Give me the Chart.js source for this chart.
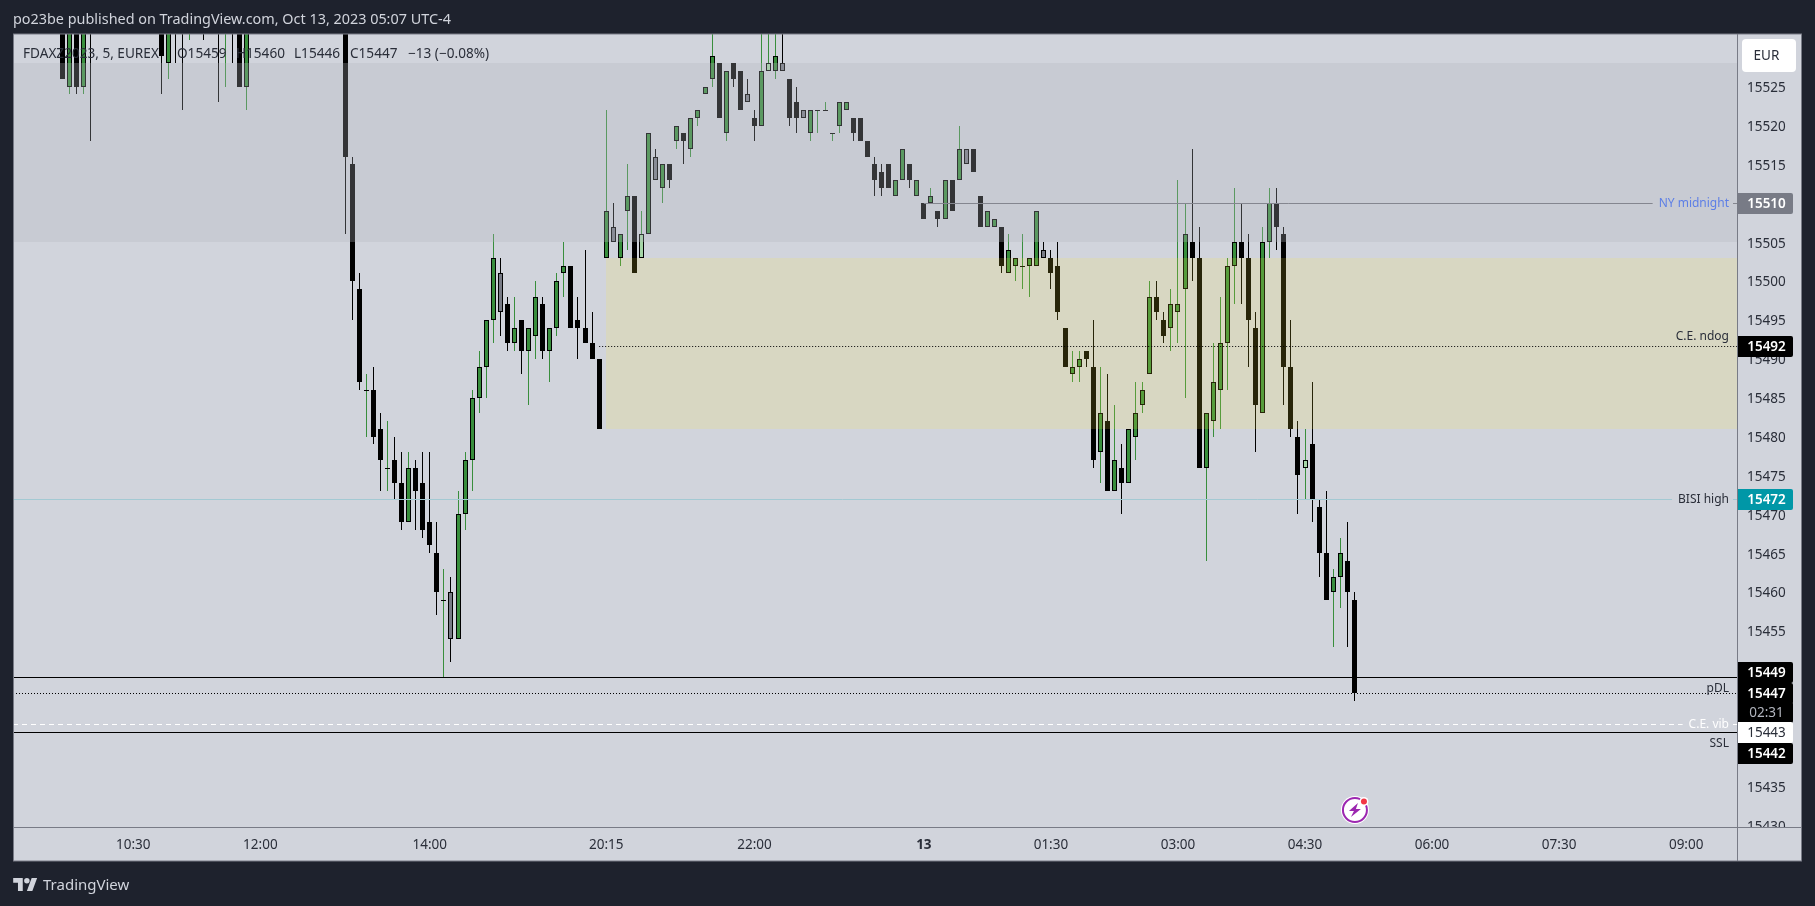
<!DOCTYPE html>
<html><head><meta charset="utf-8"><title>FDAX chart</title>
<script src="https://cdn.jsdelivr.net/npm/chart.js@4/dist/chart.umd.js"></script>
<style>
html,body{margin:0;padding:0;background:#1e222d;width:1815px;height:906px;overflow:hidden}
canvas{position:absolute;left:0;top:0}
.t{position:absolute;white-space:pre;font-family:"Noto Sans",sans-serif;line-height:18px}
.lg{top:44px;font-size:13.6px;color:#2a2e39}
</style></head><body>
<canvas id="c" width="1815" height="906"></canvas>
<div class="t" style="left:13px;top:10px;font-size:14.4px;color:#d1d4dc">po23be published on TradingView.com, Oct 13, 2023 05:07 UTC-4</div>
<div class="t lg" style="left:23px">FDAXZ2023, 5, EUREX</div>
<div class="t lg" style="left:177px">O15459</div>
<div class="t lg" style="left:236px">H15460</div>
<div class="t lg" style="left:294px">L15446</div>
<div class="t lg" style="left:350px">C15447</div>
<div class="t lg" style="left:408px">−13 (−0.08%)</div>
<svg style="position:absolute;left:13px;top:878px" width="25" height="13" viewBox="0 0 36 19"><path fill="#d1d4dc" d="M14 19H7V7H0V0h14v19zm14 0h-8L27 0h8l-7 19zM20 8a4 4 0 1 0 0-8 4 4 0 0 0 0 8z"/></svg>
<div class="t" style="left:43px;top:875px;font-size:15px;color:#d1d4dc">TradingView</div>
<script>
// bar index of the first entry is firstBar; 10:30 is bar 0
const firstBar = -10;
const opens = [15540,15525,15540,15525,15540,null,null,null,null,null,null,null,null,null,15540,15528,15540,15540,15535,null,15540,null,15540,15535,15540,15540,15525,null,null,null,null,null,null,null,null,null,null,null,null,null,15540,
15515,15499,15486,15486,15481,15476,15477,15474,15469,15476,15474,15469,15465,15459,15460,15454,15470,15477,15485,15489,15495,15501,15497,15492,15495,15491,15493,15497,15491,15494,15501,15502,15495,15494,15492,15490,
15503,15507,15503,15509,15511,15503,15506,15516,15512,15515,15518,15519,15517,15521,15524,15526,15528,15519,15528,15527,15524,15521,15520,15527,15527,15528,15526,15523,15522,15519,15522,15522,15519,15520,15522,15521,15521,15518,15515,15514,15515,15511,15513,15515,15511,
15510,15510,15509,15508,15513,15513,15517,15517,15511,15507,15507,15507,15501,15502,15502,15502,15502,15504,15503,15502,15494,15488,15489,15491,15489,15478,15482,15473,15476,15474,15480,15484,15488,15498,15495,15494,15496,15499,15505,15503,15476,15482,15486,15492,15502,15505,15503,15494,15483,15505,15510,15506,15489,15480,15476,15479,15471,15465,15460,15462,15464,15459];
const highs = [15541,15541,15541,15541,15541,null,null,null,null,null,null,null,null,null,15541,15541,15541,15541,15541,null,15541,null,15541,15541,15541,15541,15541,null,null,null,null,null,null,null,null,null,null,null,null,null,15541,
15516,15501,15488,15489,15483,15482,15480,15478,15478,15477,15478,15478,15469,15463,15462,15473,15478,15486,15491,15495,15506,15503,15498,15498,15495,15494,15500,15498,15494,15501,15505,15502,15498,15504,15496,15490,
15522,15510,15506,15515,15511,15509,15519,15517,15515,15515,15520,15519,15521,15522,15525,15534,15528,15527,15528,15527,15526,15522,15534,15534,15534,15534,15526,15525,15522,15522,15522,15523,15519,15523,15523,15521,15521,15518,15516,15515,15515,15513,15517,15515,15513,
15510,15512,15509,15513,15513,15520,15517,15517,15511,15509,15508,15507,15506,15503,15506,15503,15509,15505,15504,15505,15494,15491,15491,15491,15495,15489,15488,15484,15479,15481,15487,15487,15500,15500,15496,15499,15513,15510,15517,15507,15483,15492,15498,15503,15512,15510,15506,15496,15507,15512,15512,15507,15495,15482,15481,15487,15472,15473,15463,15467,15469,15460];
const lows = [15526,15524,15524,15524,15518,null,null,null,null,null,null,null,null,null,15524,15526,15528,15522,15531,null,15531,null,15523,15525,15528,15525,15522,null,null,null,null,null,null,null,null,null,null,null,null,null,15506,
15495,15486,15480,15479,15473,15473,15472,15468,15469,15468,15467,15465,15457,15449,15451,15454,15468,15473,15483,15485,15492,15493,15491,15491,15488,15484,15490,15490,15487,15493,15498,15494,15490,15492,15490,15481,
15503,15505,15502,15504,15501,15503,15506,15513,15510,15512,15517,15515,15516,15520,15524,15525,15521,15518,15525,15522,15523,15518,15520,15527,15526,15527,15520,15519,15521,15518,15519,15522,15518,15519,15522,15518,15518,15516,15511,15511,15512,15511,15513,15512,15511,
15508,15510,15507,15508,15509,15513,15515,15514,15507,15507,15507,15501,15501,15500,15499,15498,15502,15503,15499,15495,15489,15487,15487,15489,15476,15474,15473,15473,15470,15474,15477,15483,15488,15495,15492,15491,15492,15485,15500,15476,15464,15480,15481,15486,15497,15497,15489,15478,15483,15503,15504,15484,15480,15470,15472,15469,15462,15459,15453,15458,15453,15446];
const closes = [15526,15540,15525,15540,15536,null,null,null,null,null,null,null,null,null,15529,15540,15535,15535,15540,null,15535,null,15535,15540,15535,15525,15540,null,null,null,null,null,null,null,null,null,null,null,null,null,15516,
15500,15487,15486,15480,15477,15476,15474,15469,15476,15473,15468,15466,15460,15459,15454,15470,15477,15485,15489,15495,15503,15496,15492,15494,15491,15494,15498,15491,15494,15500,15502,15494,15494,15492,15490,15481,
15509,15505,15506,15511,15501,15506,15519,15513,15515,15513,15520,15518,15521,15522,15525,15529,15521,15527,15526,15522,15523,15520,15527,15528,15529,15527,15521,15521,15521,15522,15522,15522,15519,15523,15523,15519,15518,15516,15513,15512,15512,15513,15517,15513,15513,
15508,15511,15508,15513,15509,15517,15515,15514,15507,15509,15508,15502,15504,15503,15502,15503,15509,15503,15501,15496,15489,15489,15490,15490,15477,15483,15473,15477,15474,15481,15483,15486,15498,15496,15493,15497,15497,15506,15503,15476,15483,15487,15492,15502,15505,15503,15495,15484,15505,15510,15507,15489,15481,15475,15477,15472,15465,15459,15462,15465,15460,15447];
const grayBars = [45,52,68,74,87,92,95,118,129];
const paleBars = [72,90,166];
const priceTicks = [15525,15520,15515,15510,15505,15500,15495,15490,15485,15480,15475,15470,15465,15460,15455,15450,15445,15440,15435,15430];
const timeTickBars = [0,18,42,67,88,112,130,148,166,184,202,220];
const timeTickLabels = ["10:30","12:00","14:00","20:15","22:00","13","01:30","03:00","04:30","06:00","07:30","09:00"];
const dayTick = "13";
const grayZone = {from:15528, to:15505};
const yellowZone = {from:15503, to:15481, startBar:67};
const levels = [
 {v:15510, color:"#84868f", dash:[], startBar:112, label:"NY midnight", labelColor:"#5d7fe6", place:"break"},
 {v:15491.7, color:"#000", dash:[1,2], startBar:66, label:"C.E. ndog", labelColor:"#2a2e39", place:"above"},
 {v:15472, color:"#a3c9d3", dash:[], label:"BISI high", labelColor:"#2a2e39", place:"break"},
 {v:15449.1, color:"#000", dash:[], label:null},
 {v:15447.05, color:"#000", dash:[1,2], label:"pDL", labelColor:"#2a2e39", place:"near"},
 {v:15443, color:"#fff", dash:[5,4], label:"C.E. vib", labelColor:"#fff", place:"break"},
 {v:15442.05, color:"#000", dash:[], label:"SSL", labelColor:"#2a2e39", place:"below"}
];
const tags = [
 {v:15510, text:"15510", bg:"#787b86", fg:"#fff", dy:0},
 {v:15491.7, text:"15492", bg:"#000", fg:"#fff", dy:0},
 {v:15472, text:"15472", bg:"#0097a7", fg:"#fff", dy:0},
 {v:15449.1, text:"15449", bg:"#000", fg:"#fff", dy:-5},
 {v:15447.05, text:"15447", bg:"#000", fg:"#fff", dy:0},
 {v:15447.05, text:"02:31", bg:"#000", fg:"#b2b5be", dy:19},
 {v:15443, text:"15443", bg:"#fff", fg:"#2a2e39", dy:8},
 {v:15442.05, text:"15442", bg:"#000", fg:"#fff", dy:21}
];
const FONT = '"Noto Sans", sans-serif';
const GREEN = "#388e3c", BLACK = "#000", GRAY = "#787b86", PALE = "#a5d6a7";
const bars = opens.map((o,j)=>({i:j+firstBar,o,h:highs[j],l:lows[j],c:closes[j]})).filter(b=>b.o!==null);
const isUp = b=>b.c>=b.o;
const bodyColor = b=> grayBars.includes(b.i)?GRAY: paleBars.includes(b.i)?PALE: (isUp(b) && b.c!==b.o)?GREEN:BLACK;
const wickColor = b=> grayBars.includes(b.i)?BLACK: isUp(b)?GREEN:BLACK;

const snapBars = {id:'snapBars', afterDatasetsUpdate(chart){
  chart.data.datasets.forEach((d,k)=>{
    chart.getDatasetMeta(k).data.forEach(el=>{
      el.x = Math.floor(el.x)+0.5;
      let a=Math.round(el.y), b=Math.round(el.base);
      if(a===b) b=a+1;
      el.y=a; el.base=b;
    });
  });
}};
function crispY(p){return Math.round(p)+0.5;}
const overlays = {id:'overlays',
 beforeDraw(chart){
  const c=chart.ctx; c.save();
  c.fillStyle="#d1d4dc"; c.fillRect(13,34,1789,827);
  c.restore();
 },
 afterDatasetsDraw(chart){
  const c=chart.ctx,{x,y}=chart.scales,a=chart.chartArea;
  c.save();
  c.beginPath(); c.rect(a.left,a.top,a.width,a.height); c.clip();
  c.fillStyle="rgba(178,181,190,0.29)";
  const gt=y.getPixelForValue(grayZone.from), gb=y.getPixelForValue(grayZone.to);
  c.fillRect(a.left,Math.round(gt),a.width,Math.round(gb)-Math.round(gt));
  c.fillStyle="rgba(255,235,59,0.155)";
  const yt=y.getPixelForValue(yellowZone.from), yb=y.getPixelForValue(yellowZone.to), yx=Math.round(x.getPixelForValue(yellowZone.startBar));
  c.fillRect(yx,Math.round(yt),a.right-yx,Math.round(yb)-Math.round(yt));
  c.font='12px '+FONT; c.textAlign='right'; c.textBaseline='middle';
  const textRight=a.right-8;
  levels.forEach(l=>{
    const py=crispY(y.getPixelForValue(l.v));
    const x0=l.startBar!==undefined?x.getPixelForValue(l.startBar):a.left;
    c.strokeStyle=l.color; c.lineWidth=1; c.setLineDash(l.dash);
    c.beginPath();
    if(l.label && l.place==='break'){
      const w=c.measureText(l.label).width;
      c.moveTo(x0,py); c.lineTo(textRight-w-6,py);
      c.moveTo(textRight+4,py); c.lineTo(a.right,py);
    } else { c.moveTo(x0,py); c.lineTo(a.right,py); }
    c.stroke(); c.setLineDash([]);
    if(l.label){
      c.fillStyle=l.labelColor;
      const ly = l.place==='above'?py-10: l.place==='near'?py-5: l.place==='below'?py+11:py+0.5;
      c.fillText(l.label,textRight,ly);
    }
  });
  c.restore();
 },
 afterDraw(chart){
  const c=chart.ctx,{x,y}=chart.scales,a=chart.chartArea;
  c.save();
  // strip that hides the clipped bottom price label
  c.fillStyle="#d1d4dc"; c.fillRect(a.right,a.bottom,65,33);
  // currency button
  c.fillStyle="#fff"; c.beginPath(); c.roundRect(1742,39,54,33,4); c.fill();
  c.fillStyle="#2a2e39"; c.font='13.5px '+FONT; c.textAlign='center'; c.textBaseline='middle';
  c.fillText("EUR",1766.5,56);
  // price tags
  tags.forEach(t=>{
    const py=Math.round(y.getPixelForValue(t.v))+t.dy;
    c.fillStyle=t.bg; c.beginPath(); c.roundRect(a.right,py-10,56,21,[0,2,2,0]); c.fill();
    c.fillStyle=t.fg; c.font=(t.fg==="#fff"?'600 ':'')+'13.5px '+FONT;
    c.fillText(t.text,a.right+29.5,py+1.5);
  });
  // lightning marker over the last bar
  const mx=x.getPixelForValue(opens.length-1+firstBar)+0.5, my=810;
  c.fillStyle="#fff"; c.beginPath(); c.arc(mx,my,14,0,7); c.fill();
  c.strokeStyle="#9c27b0"; c.lineWidth=2; c.beginPath(); c.arc(mx,my,12,0,7); c.stroke();
  c.fillStyle="#9c27b0"; c.beginPath();
  [[3,-7],[-6,1],[-1,1],[-4,7],[6,-1],[1,-1]].forEach((p,n)=>n?c.lineTo(mx+p[0],my+p[1]):c.moveTo(mx+p[0],my+p[1]));
  c.closePath(); c.fill();
  c.fillStyle="#fff"; c.beginPath(); c.arc(mx+9,my-8.5,4.5,0,7); c.fill();
  c.fillStyle="#f23645"; c.beginPath(); c.arc(mx+9,my-8.5,3,0,7); c.fill();
  // frame
  c.fillStyle="#787b86";
  c.fillRect(13,33.5,1789,1); c.fillRect(13,34,1,827); c.fillRect(13,860.5,1789,1); c.fillRect(1801,34,1,827);
  c.fillRect(1737,34,1,827); c.fillRect(13,827,1789,1);
  c.restore();
 }
};
new Chart(document.getElementById('c'),{
 type:'bar',
 data:{datasets:[
  {label:'wick',order:2,grouped:false,barThickness:1,inflateAmount:0,borderWidth:0,
   data:bars.map(b=>({x:b.i,y:[b.l,b.h]})),backgroundColor:bars.map(wickColor)},
  {label:'body',order:1,grouped:false,barThickness:5,inflateAmount:0,borderWidth:1,borderSkipped:false,borderColor:'#000',
   data:bars.map(b=>({x:b.i,y:[b.o,b.c]})),backgroundColor:bars.map(bodyColor)}
 ]},
 options:{responsive:false,animation:false,devicePixelRatio:1,
  layout:{padding:{left:13,top:34,right:0,bottom:0}},
  plugins:{legend:{display:false},tooltip:{enabled:false},title:{display:false}},
  scales:{
   x:{type:'linear',offset:false,min:-17.045,max:227.2,grid:{display:false,drawTicks:false},border:{display:false},
    afterFit(s){s.height=79;},
    afterBuildTicks(s){s.ticks=timeTickBars.map(v=>({value:v}));},
    ticks:{autoSkip:false,maxRotation:0,padding:10,color:'#2a2e39',
     font:ctx=>({family:FONT,size:13.5,weight:(ctx.tick && timeTickLabels[timeTickBars.indexOf(ctx.tick.value)]===dayTick)?'bold':'normal'}),
     callback:v=>timeTickLabels[timeTickBars.indexOf(v)]}},
   y:{type:'linear',position:'right',min:15429.8,max:15531.77,grid:{display:false,drawTicks:false},border:{display:false},
    afterFit(s){s.width=78;},
    afterBuildTicks(s){s.ticks=priceTicks.map(v=>({value:v}));},
    ticks:{autoSkip:false,padding:10,labelOffset:1.5,color:'#2a2e39',font:{family:FONT,size:13.5},callback:v=>String(v)}}
  }
 },
 plugins:[snapBars,overlays]
});
</script>
</body></html>
